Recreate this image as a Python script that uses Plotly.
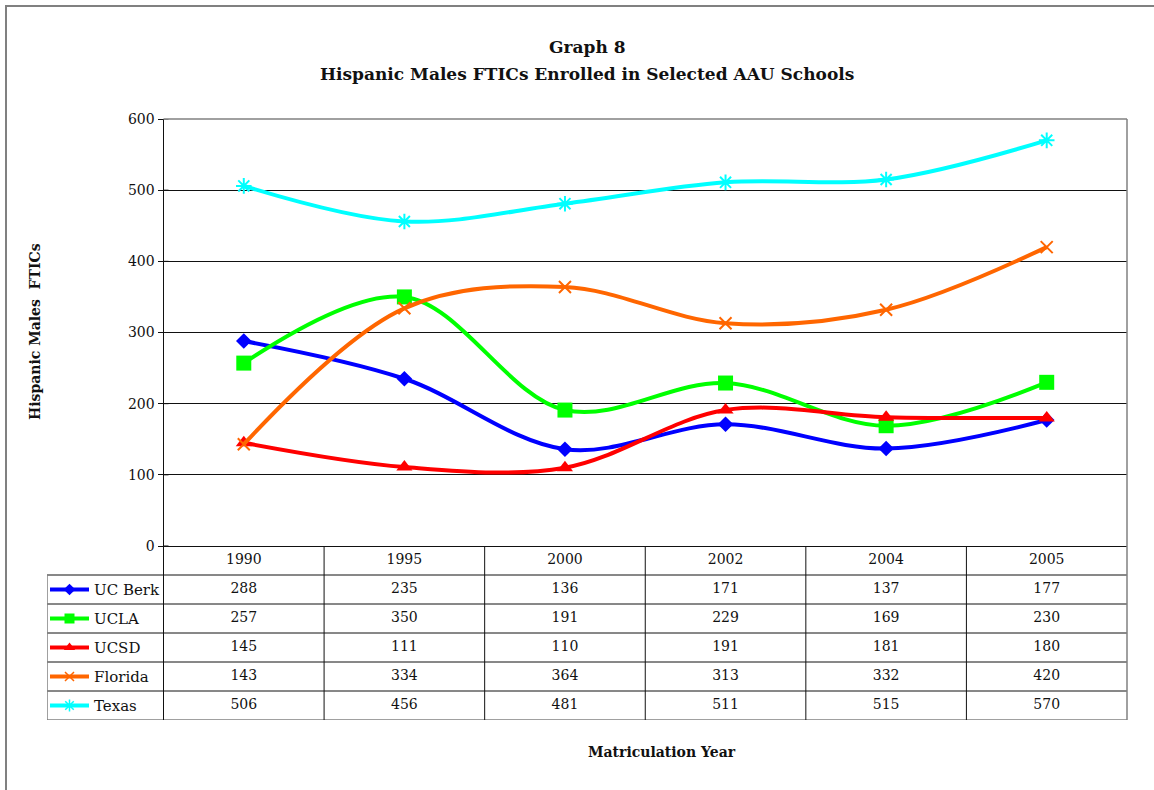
import plotly.graph_objects as go

# ---------------- data ----------------
years = ["1990", "1995", "2000", "2002", "2004", "2005"]
series_names = ["UC Berk", "UCLA", "UCSD", "Florida", "Texas"]
uc_berk = [288, 235, 136, 171, 137, 177]
ucla = [257, 350, 191, 229, 169, 230]
ucsd = [145, 111, 110, 191, 181, 180]
florida = [143, 334, 364, 313, 332, 420]
texas = [506, 456, 481, 511, 515, 570]
values = [uc_berk, ucla, ucsd, florida, texas]
y_ticks = [0, 100, 200, 300, 400, 500, 600]

title_line1 = "Graph 8"
title_line2 = "Hispanic Males FTICs Enrolled in Selected AAU Schools"
y_title = "Hispanic Males  FTICs"
x_title = "Matriculation Year"

# ---------------- styles ----------------
colors = ["#0000FF", "#00FF00", "#FF0000", "#FF6600", "#00FFFF"]
symbols = ["diamond", "square", "triangle-up", "x-thin-open", "asterisk-open"]
msizes = [12, 15, 14, 12, 13]
lsizes = [9, 10, 10, 9, 10]
SERIF = "DejaVu Serif"

# ---------------- layout geometry (pixels) ----------------
W, H = 1154, 790
TBL_L = 47.0      # table left edge
PL = 163.5        # plot left
PR = 1127.0       # plot right
PT = 119.0        # plot top
P0 = 546.0        # y = 0 line
TB = 720.0        # table bottom
pw = W - TBL_L - (W - PR)
ph = H - PT - (H - TB)

def px_x(p):
    return (p - TBL_L) / pw

def px_y(p):
    return (TB - p) / ph

unit = (PR - PL) / len(years)
x2_left = -0.5 - (PL - TBL_L) / unit
ydom_split = px_y(P0)
nrows = len(series_names) + 1

fig = go.Figure()

# main chart lines
for name, vals, c, s, ms in zip(series_names, values, colors, symbols, msizes):
    open_sym = s.endswith("open")
    fig.add_trace(go.Scatter(
        x=years, y=vals, name=name, mode="lines+markers",
        line=dict(color=c, width=4, shape="spline", smoothing=1.0),
        marker=dict(symbol=s, size=ms, color=c,
                    line=dict(color=c, width=2 if open_sym else 0)),
        xaxis="x", yaxis="y", showlegend=False, cliponaxis=False,
    ))

# table values
tx, ty, tt = [], [], []
for j, yr in enumerate(years):
    tx.append(j); ty.append(0.5); tt.append(yr)
for i, vals in enumerate(values):
    for j, v in enumerate(vals):
        tx.append(j); ty.append(1.5 + i); tt.append(str(v))
fig.add_trace(go.Scatter(
    x=tx, y=ty, text=tt, mode="text", xaxis="x2", yaxis="y2",
    textfont=dict(family=SERIF, size=14, color="#111111"),
    showlegend=False, hoverinfo="skip",
))

# legend samples in the table
xa = x2_left + (50 - TBL_L) / unit
xb = x2_left + (89 - TBL_L) / unit
xm = (xa + xb) / 2
for i, (c, s, ls) in enumerate(zip(colors, symbols, lsizes)):
    open_sym = s.endswith("open")
    fig.add_trace(go.Scatter(
        x=[xa, xb], y=[1.5 + i, 1.5 + i], mode="lines",
        line=dict(color=c, width=4), xaxis="x2", yaxis="y2",
        showlegend=False, hoverinfo="skip"))
    fig.add_trace(go.Scatter(
        x=[xm], y=[1.5 + i], mode="markers",
        marker=dict(symbol=s, size=ls, color=c,
                    line=dict(color=c, width=1.5 if open_sym else 0)),
        xaxis="x2", yaxis="y2", showlegend=False, hoverinfo="skip"))

annotations = []
xl = x2_left + (92 - TBL_L) / unit
for i, name in enumerate(series_names):
    annotations.append(dict(
        x=xl, y=1.5 + i, xref="x2", yref="y2", text=name, showarrow=False,
        xanchor="left", yanchor="middle",
        font=dict(family=SERIF, size=15, color="#111111")))

annotations += [
    dict(x=px_x(587), y=px_y(47), xref="paper", yref="paper", text="<b>%s</b>" % title_line1,
         showarrow=False, xanchor="center", yanchor="middle",
         font=dict(family=SERIF, size=17, color="#111111")),
    dict(x=px_x(587), y=px_y(74), xref="paper", yref="paper", text="<b>%s</b>" % title_line2,
         showarrow=False, xanchor="center", yanchor="middle",
         font=dict(family=SERIF, size=17, color="#111111")),
    dict(x=px_x(35), y=px_y(332), xref="paper", yref="paper", text="<b>%s</b>" % y_title,
         showarrow=False, xanchor="center", yanchor="middle", textangle=-90,
         font=dict(family=SERIF, size=14, color="#111111")),
    dict(x=px_x(662), y=px_y(752), xref="paper", yref="paper", text="<b>%s</b>" % x_title,
         showarrow=False, xanchor="center", yanchor="middle",
         font=dict(family=SERIF, size=14, color="#111111")),
]

shapes = []
grid = dict(color="#111111", width=1)
gray = dict(color="#808080", width=1.5)
# table horizontal lines
for r in range(1, nrows):
    shapes.append(dict(type="line", xref="x2", yref="y2", x0=x2_left, x1=5.5, y0=r, y1=r, line=grid))
shapes.append(dict(type="line", xref="x2", yref="y2", x0=x2_left, x1=5.5, y0=nrows, y1=nrows, line=gray))
# table vertical lines
for k in range(len(years)):
    shapes.append(dict(type="line", xref="x2", yref="y2", x0=k - 0.5, x1=k - 0.5, y0=0, y1=nrows, line=grid))
shapes.append(dict(type="line", xref="x2", yref="y2", x0=x2_left, x1=x2_left, y0=1, y1=nrows, line=gray))
# inner half of the crossing y ticks
for t in y_ticks:
    shapes.append(dict(type="line", xref="x domain", yref="y", x0=0, x1=5 / (PR - PL),
                       y0=t, y1=t, line=grid))
# plot frame (top + right, gray)
shapes.append(dict(type="line", xref="paper", yref="paper", x0=px_x(PL), x1=1, y0=1, y1=1, line=gray))
shapes.append(dict(type="line", xref="paper", yref="paper", x0=1, x1=1, y0=0, y1=1, line=gray))
# outer chart frame
shapes.append(dict(type="rect", xref="paper", yref="paper",
                   x0=px_x(6), x1=px_x(W + 20), y0=px_y(6), y1=px_y(H + 20),
                   line=dict(color="#808080", width=2), layer="below"))

fig.update_layout(
    width=W, height=H,
    margin=dict(l=TBL_L, r=W - PR, t=PT, b=H - TB, pad=0),
    paper_bgcolor="white", plot_bgcolor="white",
    font=dict(family=SERIF, color="#111111"),
    xaxis=dict(domain=[px_x(PL), 1], type="category", categoryorder="array",
               categoryarray=years, range=[-0.5, len(years) - 0.5],
               showticklabels=False, ticks="", showgrid=False, zeroline=False,
               showline=True, linecolor="#111111", linewidth=1, anchor="y"),
    yaxis=dict(domain=[ydom_split, 1], range=[0, 600], tickvals=y_ticks,
               showgrid=True, gridcolor="#111111", gridwidth=1, zeroline=False,
               showline=True, linecolor="#111111", linewidth=1,
               ticks="outside", ticklen=5, tickcolor="#111111",
               tickfont=dict(family=SERIF, size=14, color="#111111"), anchor="x"),
    xaxis2=dict(domain=[0, 1], range=[x2_left, 5.5], visible=False, anchor="y2"),
    yaxis2=dict(domain=[0, ydom_split], range=[nrows, 0], visible=False, anchor="x2"),
    annotations=annotations, shapes=shapes,
)

fig.write_html("out.html", config={"displayModeBar": False},
               post_script="document.body.style.margin='0';document.body.style.overflow='hidden';")
